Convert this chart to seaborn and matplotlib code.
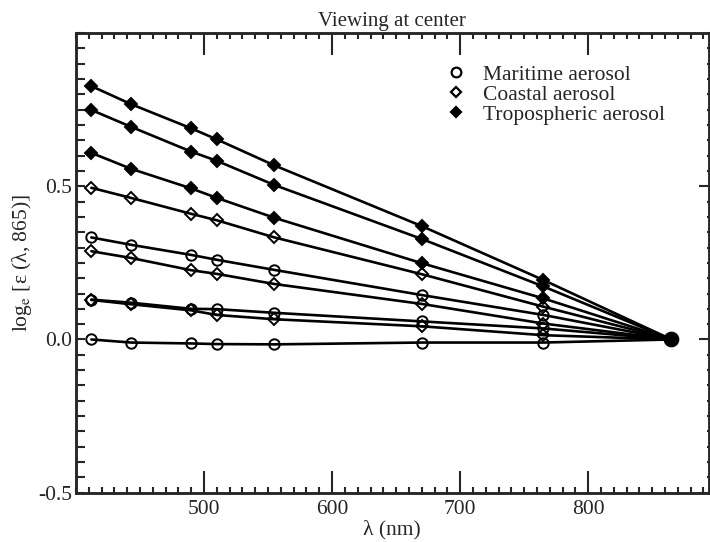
import numpy as np
import pandas as pd
import matplotlib
matplotlib.use('Agg')
import matplotlib.pyplot as plt
from matplotlib.lines import Line2D
from matplotlib.ticker import MultipleLocator
import seaborn as sns

sns.set_style('ticks')
plt.rcParams['font.family'] = ['Liberation Serif', 'DejaVu Serif']
plt.rcParams['mathtext.fontset'] = 'stix'
plt.rcParams['axes.unicode_minus'] = False

# wavelengths (nm)
wavelengths = [412, 443, 490, 510, 555, 670, 765, 865]

# log_e eps(lambda, 865)
maritime = [
    [0.333, 0.309, 0.276, 0.260, 0.227, 0.145, 0.080, 0.0],
    [0.130, 0.120, 0.100, 0.099, 0.087, 0.059, 0.036, 0.0],
    [0.000, -0.010, -0.013, -0.015, -0.016, -0.010, -0.010, 0.0],
]
coastal = [
    [0.495, 0.462, 0.410, 0.389, 0.333, 0.213, 0.107, 0.0],
    [0.288, 0.266, 0.226, 0.214, 0.181, 0.116, 0.052, 0.0],
    [0.129, 0.115, 0.095, 0.080, 0.066, 0.043, 0.014, 0.0],
]
tropospheric = [
    [0.827, 0.768, 0.689, 0.653, 0.568, 0.370, 0.194, 0.0],
    [0.749, 0.694, 0.613, 0.583, 0.504, 0.328, 0.173, 0.0],
    [0.609, 0.557, 0.493, 0.462, 0.397, 0.249, 0.134, 0.0],
]
legend_labels = ['Maritime aerosol', 'Coastal aerosol', 'Tropospheric aerosol']

fig = plt.figure(figsize=(7.1, 5.42), dpi=100)
ax = fig.add_axes([0.107, 0.091, 0.891, 0.848])

styles = [
    (maritime, dict(marker='o', markerfacecolor='none', markersize=7.5)),
    (coastal, dict(marker='D', markerfacecolor='none', markersize=6)),
    (tropospheric, dict(marker='D', markerfacecolor='black', markersize=6.5)),
]
for group, st in styles:
    for vals in group:
        sns.lineplot(x=wavelengths, y=vals, ax=ax, color='black', lw=1.9,
                     markeredgecolor='black', markeredgewidth=1.4,
                     markevery=list(range(len(wavelengths) - 1)), **st)

# common end point at 865 nm
sns.scatterplot(x=[wavelengths[-1]], y=[0.0], ax=ax, color='black', s=110,
                edgecolor='black', zorder=5)

ax.set_xlim(400, 894)
ax.set_ylim(-0.5, 1.0)
ax.set_xticks([500, 600, 700, 800])
ax.xaxis.set_minor_locator(MultipleLocator(10))
ax.set_yticks([-0.5, 0.0, 0.5])
ax.yaxis.set_minor_locator(MultipleLocator(0.05))

for sp in ax.spines.values():
    sp.set_linewidth(1.8)

ax.tick_params(axis='x', which='major', direction='in', length=16, width=1.5,
               top=True, bottom=True, labelsize=15.5, pad=5)
ax.tick_params(axis='x', which='minor', direction='in', length=4.5, width=1.5,
               top=True, bottom=True)
ax.tick_params(axis='y', which='both', direction='in', length=6.5, width=1.5,
               left=True, right=False, labelsize=15.5, pad=3)

ax2 = ax.twinx()
ax2.set_ylim(-0.5, 1.0)
ax2.set_yticks([-0.5, 0.0, 0.5])
ax2.yaxis.set_minor_locator(MultipleLocator(0.05))
ax2.tick_params(axis='y', which='major', direction='in', length=7, width=1.5,
                labelright=False)
ax2.tick_params(axis='y', which='minor', direction='in', length=1.5, width=1.5)
for sp in ax2.spines.values():
    sp.set_linewidth(1.8)

ax.set_xlabel('λ (nm)', fontsize=15.5, labelpad=1)
ax.set_ylabel('log$_\\mathrm{e}$ [ε (λ, 865)]', fontsize=15.5, labelpad=3)
ax.set_title('Viewing at center', fontsize=15, pad=5)

handles = [
    Line2D([], [], ls='none', marker='o', mfc='none', mec='black', ms=7, mew=1.6),
    Line2D([], [], ls='none', marker='D', mfc='none', mec='black', ms=5.5, mew=1.6),
    Line2D([], [], ls='none', marker='D', mfc='black', mec='black', ms=5.5, mew=1.6),
]
ax.legend(handles, legend_labels, loc='upper left', bbox_to_anchor=(0.564, 0.955),
          frameon=False, fontsize=15.5, handlelength=1.2, handletextpad=0.65,
          labelspacing=0.0, borderpad=0)

fig.savefig('out.png', dpi=100)
